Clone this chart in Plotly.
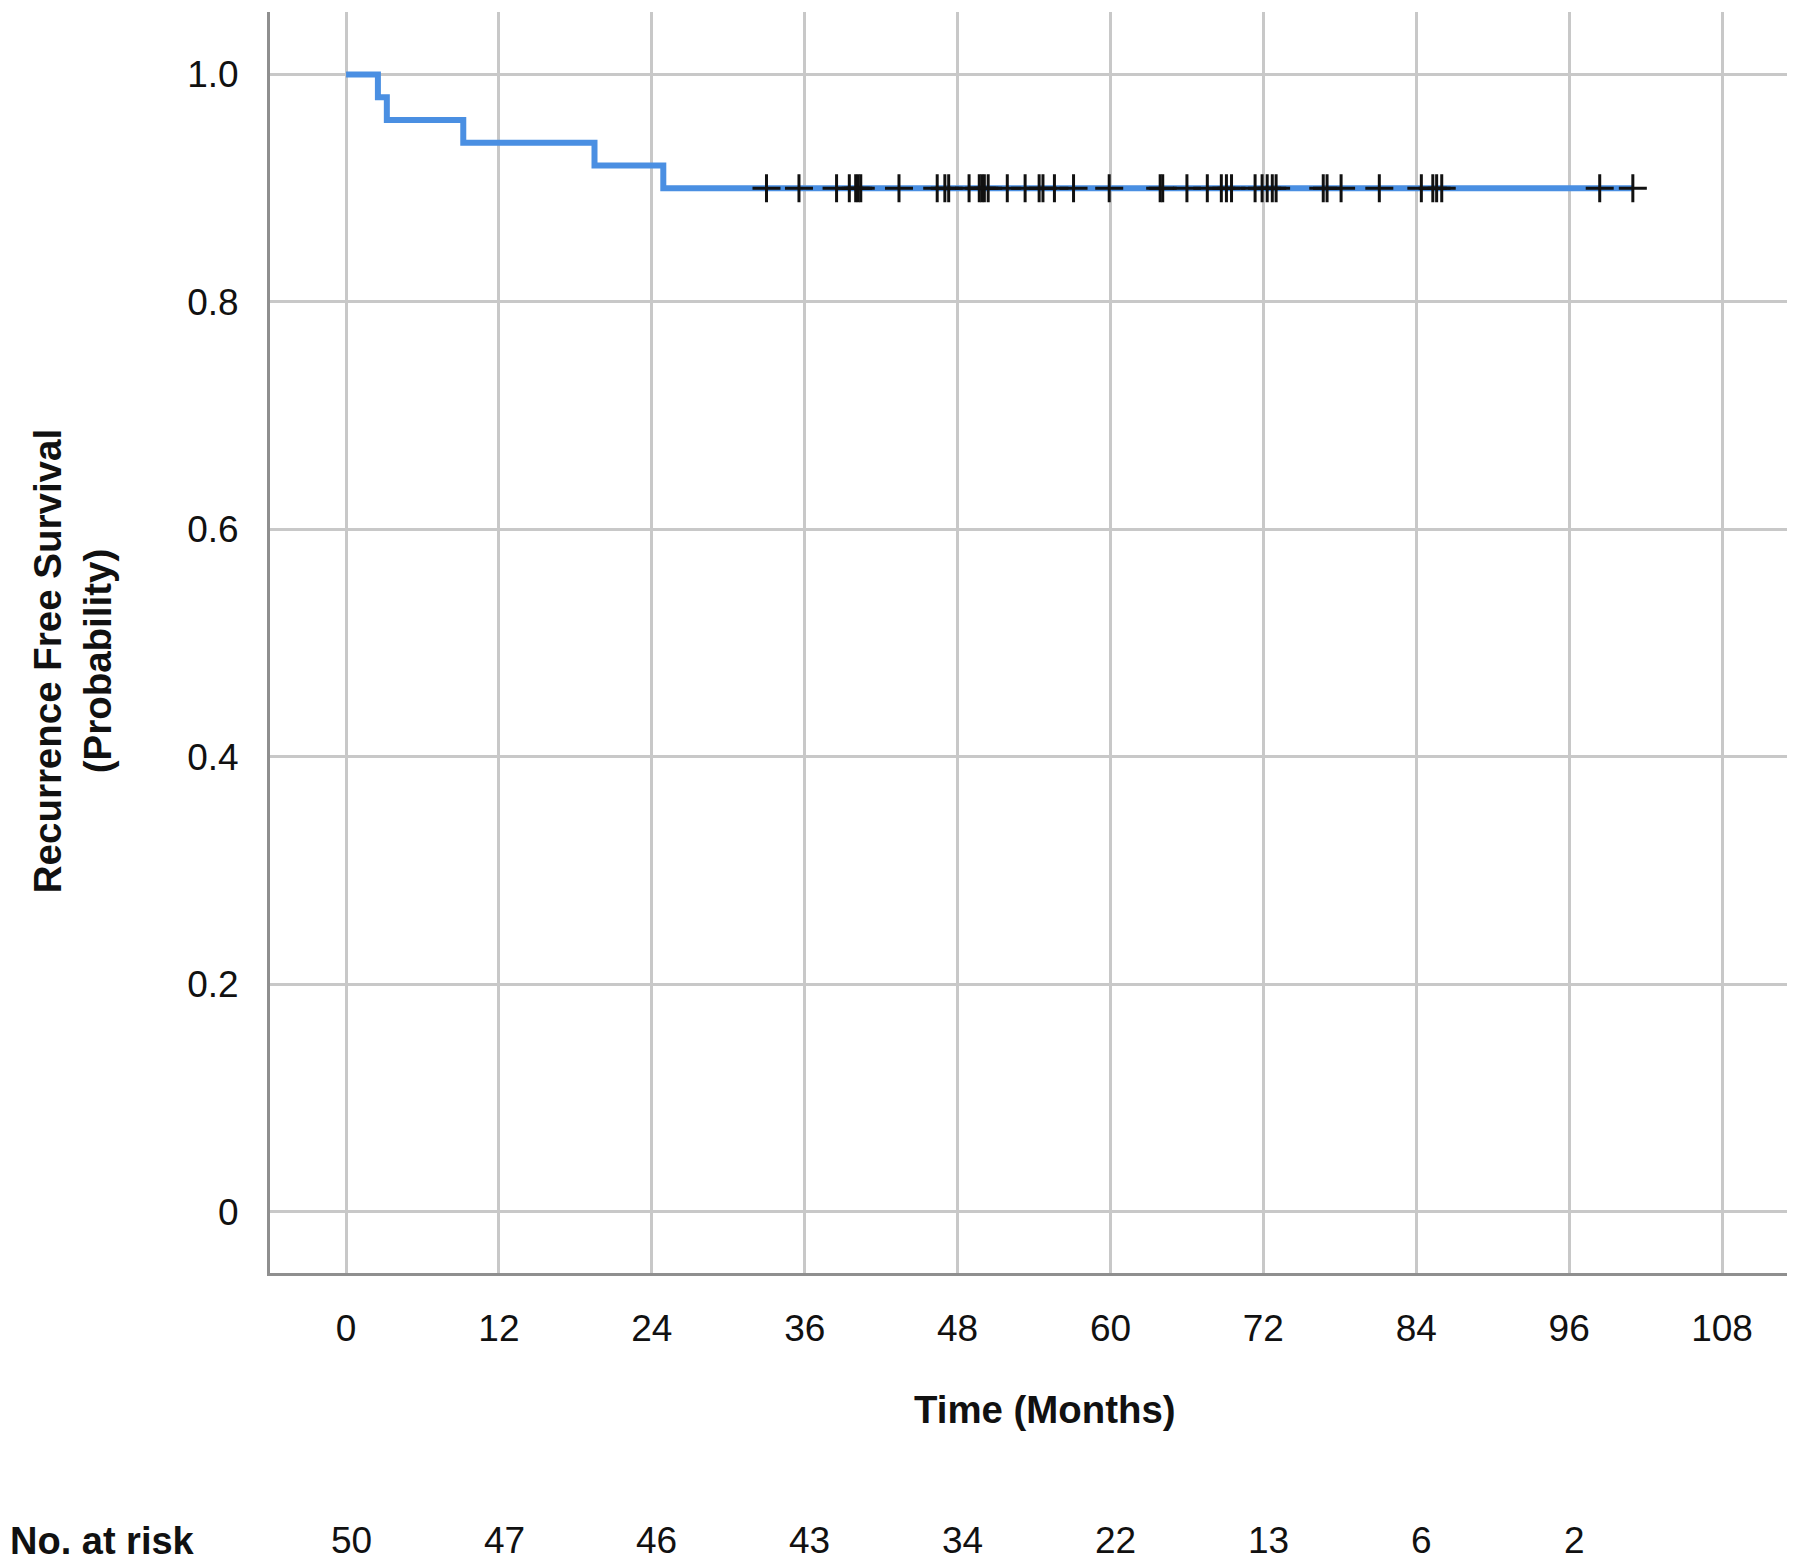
import plotly.graph_objects as go

# ---- data ----
step_times = [0, 2.5, 3.2, 9.2, 19.5, 24.9, 101.0]
step_surv = [1.00, 0.98, 0.96, 0.94, 0.92, 0.90, 0.90]

censor_times = [33.0, 35.55,
                38.5, 39.5, 40.0, 40.2, 40.4, 43.4, 46.4, 47.0, 47.3,
                48.9, 49.7, 49.9, 50.1, 50.4, 51.9, 53.3, 54.4, 54.7, 55.6, 57.1, 59.9,
                63.9, 64.1, 66.0, 67.6, 68.7, 69.1, 69.5, 71.35, 71.9,
                72.3, 72.7, 73.0, 76.7, 77.0, 78.1, 81.1,
                84.4, 85.3, 85.6, 86.0,
                98.4, 101.0]
censor_surv = [0.90] * len(censor_times)

x_ticks = [0, 12, 24, 36, 48, 60, 72, 84, 96, 108]
y_ticks = [0, 0.2, 0.4, 0.6, 0.8, 1.0]
y_tick_labels = ["0", "0.2", "0.4", "0.6", "0.8", "1.0"]

risk_times = [0, 12, 24, 36, 48, 60, 72, 84, 96]
risk_counts = [50, 47, 46, 43, 34, 22, 13, 6, 2]

FONT = "Arial, 'Liberation Sans', sans-serif"

fig = go.Figure()
fig.add_trace(go.Scatter(
    x=step_times, y=step_surv, mode="lines", line_shape="hv",
    line=dict(color="#4a8fe2", width=6), showlegend=False, hoverinfo="skip"))
fig.add_trace(go.Scatter(
    x=censor_times, y=censor_surv, mode="markers",
    marker=dict(symbol="cross-thin", size=20, line=dict(color="#111111", width=3)),
    showlegend=False))

# number at risk row
for t, n in zip(risk_times, risk_counts):
    fig.add_annotation(x=t + 0.4, y=-0.2124, xref="x", yref="paper", text=str(n),
                       showarrow=False, font=dict(family=FONT, size=37, color="#111"),
                       xanchor="center", yanchor="middle")
fig.add_annotation(x=(8 - 270) / 1517, y=-0.2124, xref="paper", yref="paper", text="<b>No. at risk</b>",
                   showarrow=False, font=dict(family=FONT, size=38, color="#111"),
                   xanchor="left", yanchor="middle")
# x axis title
fig.add_annotation(x=(1045 - 270) / 1517, y=(1273 - 1410) / 1261.5, xref="paper", yref="paper",
                   text="<b>Time (Months)</b>", showarrow=False,
                   font=dict(family=FONT, size=38.4, color="#111"),
                   xanchor="center", yanchor="middle")
# y axis title
fig.add_annotation(x=(72 - 270) / 1517, y=(1273 - 661) / 1261.5, xref="paper", yref="paper",
                   text="<b>Recurrence Free Survival<br>(Probability)</b>", showarrow=False,
                   textangle=-90, font=dict(family=FONT, size=38.5, color="#111"),
                   xanchor="center", yanchor="middle")

# page body has an 8px offset: compensate in margins
fig.update_layout(
    width=1800, height=1566,
    margin=dict(l=262, r=21, t=4, b=301),
    paper_bgcolor="white", plot_bgcolor="white",
    font=dict(family=FONT, size=37, color="#111"),
)
fig.update_xaxes(
    range=[-5.97, 113.1], tickvals=x_ticks, ticktext=[str(v) for v in x_ticks],
    showgrid=True, gridcolor="#c8c8c8", gridwidth=2.5,
    showline=True, linecolor="#8f8f8f", linewidth=3, zeroline=False,
    ticks="", ticklabelstandoff=21, tickfont=dict(family=FONT, size=37, color="#111"),
)
fig.update_yaxes(
    range=[-0.054, 1.055], tickvals=y_ticks, ticktext=y_tick_labels,
    showgrid=True, gridcolor="#c8c8c8", gridwidth=2.5,
    showline=True, linecolor="#8f8f8f", linewidth=3, zeroline=False,
    ticks="", ticklabelstandoff=21, tickfont=dict(family=FONT, size=37, color="#111"),
)

fig.write_html("out.html")
